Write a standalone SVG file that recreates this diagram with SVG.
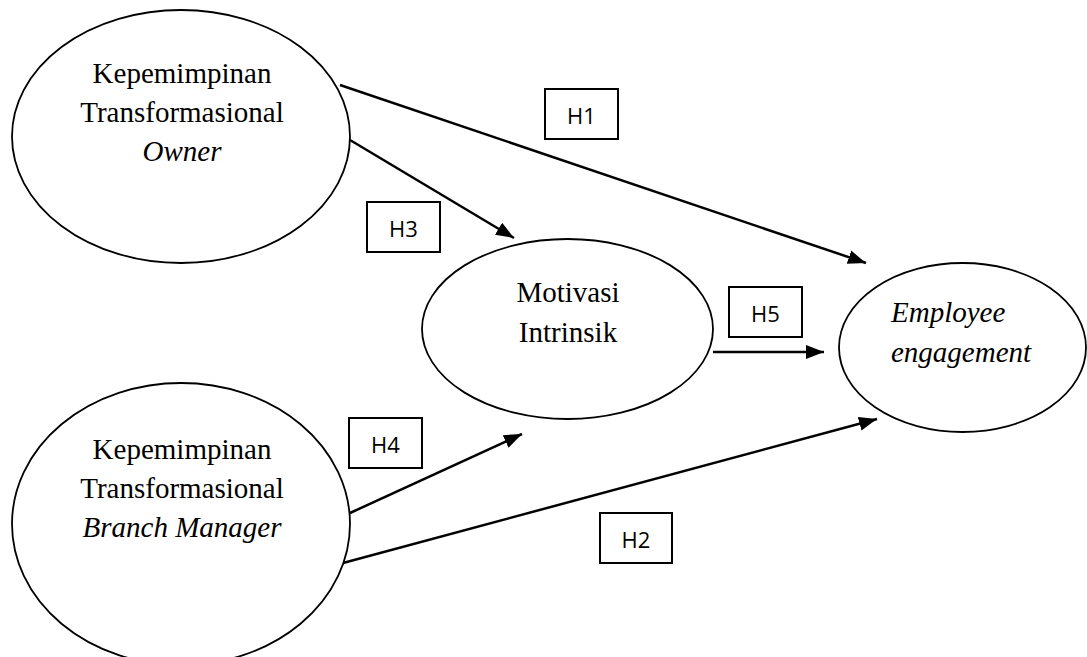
<svg xmlns="http://www.w3.org/2000/svg" width="1087" height="657" viewBox="0 0 1087 657">
<style>
.node ellipse{fill:#fff;stroke:#000;stroke-width:1.8}
.lbl{font-family:"Liberation Serif","Times New Roman",serif;font-size:29px;fill:#000}
.it{font-style:italic}
.hbox rect{fill:#fff;stroke:#000;stroke-width:2}
.hbox text{font-family:"Open Sans","Liberation Sans",sans-serif;font-size:22px;fill:#000;text-anchor:middle}
.conn line{stroke:#000;stroke-width:2.5;marker-end:url(#arr)}
</style>
<defs>
<marker id="arr" markerUnits="userSpaceOnUse" markerWidth="20" markerHeight="16" viewBox="0 0 20 16" refX="18" refY="8" orient="auto">
<path d="M0,1 L18,8 L0,15 Z" fill="#000"/>
</marker>
</defs>
<rect width="1087" height="657" fill="#fff"/>
<g id="connectors" class="conn">
<line x1="340" y1="85" x2="866" y2="263"/>
<line x1="350" y1="140" x2="514" y2="238"/>
<line x1="713" y1="352" x2="824" y2="352"/>
<line x1="350" y1="513" x2="522" y2="434"/>
<line x1="343" y1="563" x2="877" y2="419"/>
</g>
<g id="node-owner" class="node">
<ellipse cx="181" cy="136.5" rx="169" ry="126.5"/>
<text class="lbl" x="182" y="83" text-anchor="middle">Kepemimpinan</text>
<text class="lbl" x="182" y="122" text-anchor="middle">Transformasional</text>
<text class="lbl it" x="182" y="161" text-anchor="middle">Owner</text>
</g>
<g id="node-branch" class="node">
<ellipse cx="181" cy="524" rx="169" ry="141"/>
<text class="lbl" x="182" y="459" text-anchor="middle">Kepemimpinan</text>
<text class="lbl" x="182" y="498" text-anchor="middle">Transformasional</text>
<text class="lbl it" x="182" y="537" text-anchor="middle">Branch Manager</text>
</g>
<g id="node-motivasi" class="node">
<ellipse cx="567.5" cy="329" rx="145.5" ry="90"/>
<text class="lbl" x="568" y="302" text-anchor="middle">Motivasi</text>
<text class="lbl" x="568" y="342" text-anchor="middle">Intrinsik</text>
</g>
<g id="node-engagement" class="node">
<ellipse cx="962.5" cy="347.5" rx="123.5" ry="84.5"/>
<text class="lbl it" x="891" y="322">Employee</text>
<text class="lbl it" x="891" y="362">engagement</text>
</g>
<g id="label-h1" class="hbox"><rect x="545" y="89" width="73" height="50"/><text x="581.5" y="124">H1</text></g>
<g id="label-h3" class="hbox"><rect x="367" y="202" width="73" height="50"/><text x="403.5" y="237">H3</text></g>
<g id="label-h5" class="hbox"><rect x="729" y="287" width="73" height="50"/><text x="765.5" y="322">H5</text></g>
<g id="label-h4" class="hbox"><rect x="349" y="418" width="73" height="50"/><text x="385.5" y="453">H4</text></g>
<g id="label-h2" class="hbox"><rect x="600" y="513" width="72" height="50"/><text x="636" y="548">H2</text></g>
</svg>
